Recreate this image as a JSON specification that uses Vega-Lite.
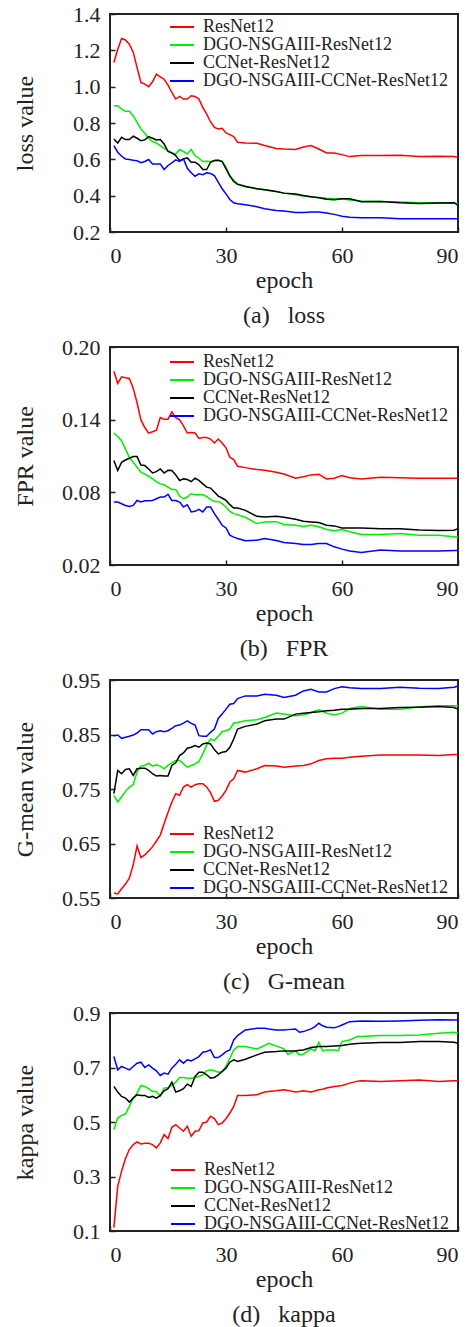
{
"$schema":"https://vega.github.io/schema/vega-lite/v6.json",
"padding":{"left":11,"top":2,"right":0,"bottom":0},
"spacing":6,
"config":{
"font":"Liberation Serif",
"style":{"guide-label":{"font":"Liberation Serif"},"guide-title":{"font":"Liberation Serif"},"group-title":{"font":"Liberation Serif"}},
"view":{"stroke":"#222","strokeWidth":2},
"axis":{"domain":false,"grid":false,"ticks":true,"tickSize":-5,"tickColor":"#222","tickWidth":1.5,"labelFont":"Liberation Serif","labelFontSize":22,"labelColor":"#222","titleFont":"Liberation Serif","titleFontSize":24,"titleFontWeight":"normal","titleColor":"#222"},
"axisX":{"labelPadding":18.5,"titlePadding":2},
"axisY":{"labelPadding":15,"titleX":-73},
"legend":{"orient":"none","labelFont":"Liberation Serif","labelFontSize":18,"labelColor":"#222","labelLimit":0,"symbolSize":144,"symbolStrokeWidth":2,"rowPadding":-4.7,"padding":0,"labelOffset":18},
"title":{"font":"Liberation Serif","fontSize":24,"fontWeight":"normal","color":"#222","orient":"bottom","offset":11}
},
"resolve":{"scale":{"color":"independent"},"legend":{"color":"independent"}},
"datasets":{
"a":[
{"x":1,"R":1.133,"G":0.895,"K":0.712,"B":0.676},
{"x":2,"R":1.206,"G":0.895,"K":0.69,"B":0.639},
{"x":3,"R":1.265,"G":0.877,"K":0.721,"B":0.617},
{"x":4,"R":1.257,"G":0.864,"K":0.709,"B":0.602},
{"x":5,"R":1.234,"G":0.864,"K":0.709,"B":0.599},
{"x":6,"R":1.19,"G":0.84,"K":0.727,"B":0.595},
{"x":7,"R":1.105,"G":0.804,"K":0.716,"B":0.592},
{"x":8,"R":1.023,"G":0.767,"K":0.703,"B":0.581},
{"x":9,"R":1.014,"G":0.743,"K":0.707,"B":0.588},
{"x":10,"R":1.0,"G":0.716,"K":0.725,"B":0.599},
{"x":11,"R":1.027,"G":0.698,"K":0.716,"B":0.575},
{"x":12,"R":1.069,"G":0.69,"K":0.707,"B":0.575},
{"x":13,"R":1.054,"G":0.676,"K":0.709,"B":0.575},
{"x":14,"R":1.041,"G":0.661,"K":0.685,"B":0.544},
{"x":15,"R":1.008,"G":0.648,"K":0.643,"B":0.566},
{"x":16,"R":0.968,"G":0.635,"K":0.635,"B":0.581},
{"x":17,"R":0.932,"G":0.63,"K":0.621,"B":0.597},
{"x":18,"R":0.946,"G":0.654,"K":0.593,"B":0.588},
{"x":19,"R":0.932,"G":0.643,"K":0.602,"B":0.602},
{"x":20,"R":0.932,"G":0.63,"K":0.608,"B":0.551},
{"x":21,"R":0.95,"G":0.654,"K":0.584,"B":0.526},
{"x":22,"R":0.946,"G":0.621,"K":0.584,"B":0.507},
{"x":23,"R":0.932,"G":0.606,"K":0.57,"B":0.52},
{"x":24,"R":0.886,"G":0.588,"K":0.544,"B":0.515},
{"x":25,"R":0.849,"G":0.59,"K":0.544,"B":0.526},
{"x":26,"R":0.807,"G":0.588,"K":0.584,"B":0.522},
{"x":27,"R":0.776,"G":0.593,"K":0.593,"B":0.511},
{"x":28,"R":0.767,"G":0.595,"K":0.595,"B":0.474},
{"x":29,"R":0.771,"G":0.59,"K":0.588,"B":0.438},
{"x":30,"R":0.745,"G":0.557,"K":0.548,"B":0.41},
{"x":31,"R":0.736,"G":0.511,"K":0.507,"B":0.379},
{"x":32,"R":0.725,"G":0.484,"K":0.478,"B":0.361},
{"x":33,"R":0.694,"G":0.465,"K":0.462,"B":0.356},
{"x":35,"R":0.69,"G":0.452,"K":0.45,"B":0.35},
{"x":38,"R":0.688,"G":0.438,"K":0.438,"B":0.339},
{"x":40,"R":0.676,"G":0.432,"K":0.432,"B":0.328},
{"x":43,"R":0.66,"G":0.423,"K":0.423,"B":0.319},
{"x":45,"R":0.657,"G":0.414,"K":0.414,"B":0.315},
{"x":48,"R":0.654,"G":0.405,"K":0.409,"B":0.308},
{"x":50,"R":0.668,"G":0.398,"K":0.401,"B":0.308},
{"x":52,"R":0.676,"G":0.393,"K":0.394,"B":0.31},
{"x":54,"R":0.657,"G":0.39,"K":0.389,"B":0.31},
{"x":56,"R":0.635,"G":0.386,"K":0.38,"B":0.305},
{"x":58,"R":0.635,"G":0.383,"K":0.378,"B":0.297},
{"x":60,"R":0.626,"G":0.383,"K":0.383,"B":0.287},
{"x":62,"R":0.615,"G":0.376,"K":0.383,"B":0.281},
{"x":65,"R":0.621,"G":0.37,"K":0.366,"B":0.279},
{"x":70,"R":0.621,"G":0.368,"K":0.368,"B":0.279},
{"x":75,"R":0.623,"G":0.365,"K":0.361,"B":0.273},
{"x":80,"R":0.615,"G":0.361,"K":0.357,"B":0.273},
{"x":85,"R":0.617,"G":0.361,"K":0.359,"B":0.273},
{"x":89,"R":0.615,"G":0.36,"K":0.361,"B":0.273},
{"x":90,"R":0.61,"G":0.356,"K":0.346,"B":0.273}
],
"b":[
{"x":1,"R":0.18,"G":0.1289,"K":0.1062,"B":0.072},
{"x":2,"R":0.17,"G":0.1261,"K":0.098,"B":0.072},
{"x":3,"R":0.1754,"G":0.1226,"K":0.1048,"B":0.0706},
{"x":4,"R":0.1746,"G":0.1157,"K":0.1067,"B":0.0692},
{"x":5,"R":0.174,"G":0.1089,"K":0.1081,"B":0.0684},
{"x":6,"R":0.166,"G":0.1048,"K":0.1095,"B":0.0692},
{"x":7,"R":0.154,"G":0.1007,"K":0.1095,"B":0.0733},
{"x":8,"R":0.1398,"G":0.0966,"K":0.1026,"B":0.072},
{"x":9,"R":0.1335,"G":0.095,"K":0.1021,"B":0.0731},
{"x":10,"R":0.1289,"G":0.0933,"K":0.0993,"B":0.0731},
{"x":11,"R":0.13,"G":0.0911,"K":0.096,"B":0.0733},
{"x":12,"R":0.1313,"G":0.0889,"K":0.0971,"B":0.0747},
{"x":13,"R":0.1417,"G":0.087,"K":0.0993,"B":0.0761},
{"x":14,"R":0.1404,"G":0.0862,"K":0.096,"B":0.0761},
{"x":15,"R":0.1404,"G":0.0843,"K":0.0982,"B":0.0783},
{"x":16,"R":0.1464,"G":0.0824,"K":0.098,"B":0.0733},
{"x":17,"R":0.1417,"G":0.0824,"K":0.0944,"B":0.0733},
{"x":18,"R":0.1398,"G":0.0769,"K":0.0898,"B":0.072},
{"x":19,"R":0.1349,"G":0.0747,"K":0.0911,"B":0.0679},
{"x":20,"R":0.129,"G":0.0761,"K":0.0906,"B":0.0698},
{"x":21,"R":0.1294,"G":0.0788,"K":0.0889,"B":0.0638},
{"x":22,"R":0.129,"G":0.078,"K":0.0917,"B":0.0643},
{"x":23,"R":0.1245,"G":0.078,"K":0.0898,"B":0.066},
{"x":24,"R":0.1253,"G":0.078,"K":0.087,"B":0.0638},
{"x":25,"R":0.1253,"G":0.0766,"K":0.0843,"B":0.0679},
{"x":26,"R":0.124,"G":0.0742,"K":0.0835,"B":0.0679},
{"x":27,"R":0.1207,"G":0.0725,"K":0.0802,"B":0.0624},
{"x":28,"R":0.124,"G":0.0725,"K":0.0769,"B":0.0578},
{"x":29,"R":0.1207,"G":0.0706,"K":0.0753,"B":0.0528},
{"x":30,"R":0.1168,"G":0.0679,"K":0.0733,"B":0.0506},
{"x":31,"R":0.1089,"G":0.0643,"K":0.0698,"B":0.0446},
{"x":32,"R":0.107,"G":0.0624,"K":0.0671,"B":0.043},
{"x":33,"R":0.1015,"G":0.0616,"K":0.0671,"B":0.0419},
{"x":35,"R":0.1004,"G":0.0594,"K":0.0651,"B":0.04},
{"x":38,"R":0.0988,"G":0.0542,"K":0.0602,"B":0.0405},
{"x":40,"R":0.0982,"G":0.0556,"K":0.0597,"B":0.0419},
{"x":43,"R":0.0966,"G":0.0558,"K":0.0602,"B":0.0402},
{"x":45,"R":0.0952,"G":0.0534,"K":0.0594,"B":0.0386},
{"x":48,"R":0.0917,"G":0.0528,"K":0.0578,"B":0.0378},
{"x":50,"R":0.0928,"G":0.0517,"K":0.0561,"B":0.037},
{"x":52,"R":0.0944,"G":0.0528,"K":0.0556,"B":0.037},
{"x":54,"R":0.095,"G":0.0515,"K":0.055,"B":0.0378},
{"x":56,"R":0.0911,"G":0.0493,"K":0.0528,"B":0.0378},
{"x":58,"R":0.0917,"G":0.0482,"K":0.0523,"B":0.035},
{"x":60,"R":0.0939,"G":0.0493,"K":0.0506,"B":0.0331},
{"x":62,"R":0.092,"G":0.0474,"K":0.0506,"B":0.0315},
{"x":65,"R":0.0911,"G":0.0452,"K":0.0506,"B":0.0304},
{"x":70,"R":0.0925,"G":0.0452,"K":0.05,"B":0.0323},
{"x":75,"R":0.092,"G":0.046,"K":0.05,"B":0.0315},
{"x":80,"R":0.0917,"G":0.0446,"K":0.049,"B":0.0315},
{"x":85,"R":0.0917,"G":0.0446,"K":0.0484,"B":0.0315},
{"x":89,"R":0.0917,"G":0.0433,"K":0.0487,"B":0.032},
{"x":90,"R":0.0917,"G":0.0427,"K":0.05,"B":0.032}
],
"c":[
{"x":1,"R":0.5591,"G":0.7385,"K":0.7415,"B":0.8479},
{"x":2,"R":0.5573,"G":0.7263,"K":0.784,"B":0.849},
{"x":3,"R":0.567,"G":0.7354,"K":0.778,"B":0.843},
{"x":4,"R":0.5755,"G":0.7457,"K":0.7859,"B":0.845},
{"x":5,"R":0.5865,"G":0.7536,"K":0.7871,"B":0.8467},
{"x":6,"R":0.6108,"G":0.7579,"K":0.7749,"B":0.849},
{"x":7,"R":0.6454,"G":0.781,"K":0.7871,"B":0.8527},
{"x":8,"R":0.6242,"G":0.792,"K":0.7883,"B":0.8588},
{"x":9,"R":0.629,"G":0.7932,"K":0.7883,"B":0.8588},
{"x":10,"R":0.6363,"G":0.7974,"K":0.784,"B":0.8588},
{"x":11,"R":0.6442,"G":0.792,"K":0.778,"B":0.8509},
{"x":12,"R":0.6546,"G":0.7944,"K":0.7737,"B":0.8552},
{"x":13,"R":0.6655,"G":0.792,"K":0.7749,"B":0.857},
{"x":14,"R":0.6868,"G":0.7871,"K":0.7737,"B":0.8552},
{"x":15,"R":0.7068,"G":0.7932,"K":0.7737,"B":0.857},
{"x":16,"R":0.7263,"G":0.798,"K":0.7932,"B":0.8612},
{"x":17,"R":0.7415,"G":0.8023,"K":0.798,"B":0.8661},
{"x":18,"R":0.7385,"G":0.8023,"K":0.8114,"B":0.8673},
{"x":19,"R":0.7536,"G":0.7962,"K":0.8163,"B":0.871},
{"x":20,"R":0.7579,"G":0.7901,"K":0.8248,"B":0.8752},
{"x":21,"R":0.7536,"G":0.7932,"K":0.8266,"B":0.8704},
{"x":22,"R":0.7579,"G":0.7962,"K":0.8296,"B":0.8673},
{"x":23,"R":0.7597,"G":0.8005,"K":0.8266,"B":0.8479},
{"x":24,"R":0.7597,"G":0.8144,"K":0.8327,"B":0.8467},
{"x":25,"R":0.7536,"G":0.8309,"K":0.8345,"B":0.8467},
{"x":26,"R":0.7433,"G":0.8418,"K":0.8327,"B":0.854},
{"x":27,"R":0.7275,"G":0.8388,"K":0.8223,"B":0.86},
{"x":28,"R":0.7293,"G":0.8467,"K":0.8144,"B":0.8795},
{"x":29,"R":0.7372,"G":0.8552,"K":0.8175,"B":0.8874},
{"x":30,"R":0.7476,"G":0.857,"K":0.8187,"B":0.8965},
{"x":31,"R":0.7628,"G":0.86,"K":0.8266,"B":0.9056},
{"x":32,"R":0.7689,"G":0.871,"K":0.8418,"B":0.9068},
{"x":33,"R":0.784,"G":0.8722,"K":0.86,"B":0.916},
{"x":35,"R":0.781,"G":0.8752,"K":0.8649,"B":0.9208},
{"x":38,"R":0.7871,"G":0.877,"K":0.8691,"B":0.9208},
{"x":40,"R":0.7932,"G":0.8813,"K":0.8752,"B":0.9239},
{"x":43,"R":0.792,"G":0.8892,"K":0.8783,"B":0.922},
{"x":45,"R":0.7901,"G":0.8874,"K":0.8783,"B":0.9178},
{"x":48,"R":0.792,"G":0.8843,"K":0.8874,"B":0.922},
{"x":50,"R":0.7932,"G":0.8856,"K":0.8892,"B":0.93},
{"x":52,"R":0.7962,"G":0.8904,"K":0.8904,"B":0.933},
{"x":54,"R":0.8023,"G":0.8953,"K":0.8916,"B":0.9281},
{"x":56,"R":0.8053,"G":0.8892,"K":0.8935,"B":0.9281},
{"x":58,"R":0.8065,"G":0.8856,"K":0.8947,"B":0.9342},
{"x":60,"R":0.8065,"G":0.8892,"K":0.8965,"B":0.9378},
{"x":62,"R":0.8084,"G":0.8977,"K":0.8965,"B":0.936},
{"x":65,"R":0.8102,"G":0.9014,"K":0.8977,"B":0.9342},
{"x":70,"R":0.8126,"G":0.8965,"K":0.8977,"B":0.9342},
{"x":75,"R":0.8126,"G":0.8965,"K":0.8995,"B":0.9366},
{"x":80,"R":0.8126,"G":0.9008,"K":0.9002,"B":0.9348},
{"x":85,"R":0.8114,"G":0.9026,"K":0.9014,"B":0.9342},
{"x":89,"R":0.8132,"G":0.9026,"K":0.8995,"B":0.9366},
{"x":90,"R":0.8132,"G":0.9026,"K":0.8965,"B":0.939}
],
"d":[
{"x":1,"R":0.1122,"G":0.472,"K":0.6305,"B":0.7402},
{"x":2,"R":0.2646,"G":0.5146,"K":0.6098,"B":0.6915},
{"x":3,"R":0.3195,"G":0.5244,"K":0.5939,"B":0.7037},
{"x":4,"R":0.3659,"G":0.5293,"K":0.5878,"B":0.6976},
{"x":5,"R":0.3988,"G":0.5573,"K":0.5732,"B":0.6915},
{"x":6,"R":0.4171,"G":0.5878,"K":0.5878,"B":0.7037},
{"x":7,"R":0.4268,"G":0.6061,"K":0.6,"B":0.7159},
{"x":8,"R":0.4195,"G":0.6341,"K":0.5976,"B":0.7195},
{"x":9,"R":0.422,"G":0.6305,"K":0.5976,"B":0.7},
{"x":10,"R":0.422,"G":0.622,"K":0.5902,"B":0.7098},
{"x":11,"R":0.4171,"G":0.6122,"K":0.5939,"B":0.6976},
{"x":12,"R":0.4049,"G":0.6122,"K":0.5878,"B":0.6878},
{"x":13,"R":0.4232,"G":0.595,"K":0.5976,"B":0.6707},
{"x":14,"R":0.4537,"G":0.6244,"K":0.6146,"B":0.6793},
{"x":15,"R":0.439,"G":0.6268,"K":0.622,"B":0.6756},
{"x":16,"R":0.4805,"G":0.6341,"K":0.6463,"B":0.6976},
{"x":17,"R":0.4902,"G":0.6463,"K":0.6098,"B":0.7122},
{"x":18,"R":0.478,"G":0.6634,"K":0.6146,"B":0.728},
{"x":19,"R":0.4659,"G":0.6634,"K":0.622,"B":0.7159},
{"x":20,"R":0.4841,"G":0.661,"K":0.639,"B":0.728},
{"x":21,"R":0.4476,"G":0.661,"K":0.6305,"B":0.7244},
{"x":22,"R":0.4659,"G":0.6634,"K":0.6671,"B":0.7317},
{"x":23,"R":0.4683,"G":0.6671,"K":0.6829,"B":0.7402},
{"x":24,"R":0.4963,"G":0.6732,"K":0.6829,"B":0.7561},
{"x":25,"R":0.5,"G":0.6878,"K":0.6732,"B":0.7585},
{"x":26,"R":0.5207,"G":0.6915,"K":0.661,"B":0.7646},
{"x":27,"R":0.5122,"G":0.6878,"K":0.6634,"B":0.7366},
{"x":28,"R":0.4902,"G":0.6829,"K":0.6732,"B":0.7366},
{"x":29,"R":0.4963,"G":0.6854,"K":0.6854,"B":0.7463},
{"x":30,"R":0.5122,"G":0.7037,"K":0.6976,"B":0.7585},
{"x":31,"R":0.5329,"G":0.7341,"K":0.7195,"B":0.7646},
{"x":32,"R":0.5573,"G":0.7646,"K":0.728,"B":0.8012},
{"x":33,"R":0.5976,"G":0.7768,"K":0.722,"B":0.8171},
{"x":35,"R":0.5976,"G":0.7768,"K":0.7305,"B":0.8378},
{"x":38,"R":0.6,"G":0.7683,"K":0.7463,"B":0.8439},
{"x":40,"R":0.6098,"G":0.7805,"K":0.7561,"B":0.8439},
{"x":41,"R":0.612,"G":0.789,"K":0.757,"B":0.841},
{"x":43,"R":0.6146,"G":0.7793,"K":0.7585,"B":0.8378},
{"x":45,"R":0.6183,"G":0.7683,"K":0.761,"B":0.8378},
{"x":46,"R":0.616,"G":0.7488,"K":0.761,"B":0.839},
{"x":48,"R":0.6098,"G":0.761,"K":0.761,"B":0.8415},
{"x":49,"R":0.612,"G":0.7463,"K":0.763,"B":0.8293},
{"x":50,"R":0.6146,"G":0.7488,"K":0.7646,"B":0.8317},
{"x":52,"R":0.6098,"G":0.7683,"K":0.7732,"B":0.8415},
{"x":53,"R":0.614,"G":0.761,"K":0.775,"B":0.85},
{"x":54,"R":0.6183,"G":0.7927,"K":0.7768,"B":0.8622},
{"x":55,"R":0.62,"G":0.761,"K":0.7768,"B":0.853},
{"x":56,"R":0.6244,"G":0.7646,"K":0.7768,"B":0.8476},
{"x":58,"R":0.6305,"G":0.7646,"K":0.7793,"B":0.8463},
{"x":59,"R":0.632,"G":0.761,"K":0.78,"B":0.85},
{"x":60,"R":0.6341,"G":0.7951,"K":0.7805,"B":0.8561},
{"x":62,"R":0.6427,"G":0.8012,"K":0.7854,"B":0.8683},
{"x":64,"R":0.65,"G":0.8134,"K":0.788,"B":0.87},
{"x":65,"R":0.6512,"G":0.8134,"K":0.789,"B":0.8707},
{"x":70,"R":0.6488,"G":0.8171,"K":0.7915,"B":0.8695},
{"x":75,"R":0.6512,"G":0.8171,"K":0.7915,"B":0.8707},
{"x":80,"R":0.6537,"G":0.8195,"K":0.7951,"B":0.8732},
{"x":85,"R":0.6488,"G":0.8256,"K":0.7951,"B":0.8756},
{"x":89,"R":0.6512,"G":0.8293,"K":0.7927,"B":0.8744},
{"x":90,"R":0.6512,"G":0.8256,"K":0.789,"B":0.8756}
]
},
"vconcat":[
{"width":348,"height":218,"data":{"name":"a"},
"transform":[{"fold":["R","G","K","B"],"as":["s","v"]}],
"mark":{"type":"line","strokeWidth":1.5},
"encoding":{
"x":{"field":"x","type":"quantitative","scale":{"domain":[0,90],"nice":false},"axis":{"values":[0,30,60,90],"title":"epoch"}},
"y":{"field":"v","type":"quantitative","scale":{"domain":[0.2,1.4],"nice":false,"zero":false},"axis":{"values":[0.2,0.4,0.6,0.8,1.0,1.2,1.4],"format":".1f","title":"loss value"}},
"color":{"field":"s","type":"nominal","scale":{"domain":["R","G","K","B"],"range":["#ff0000","#00ee00","#000000","#0000ff"]},
"legend":{"title":null,"legendX":57,"legendY":4,"symbolType":"M-1,0H3","labelExpr":"datum.label=='R'?'ResNet12':datum.label=='G'?'DGO-NSGAIII-ResNet12':datum.label=='K'?'CCNet-ResNet12':'DGO-NSGAIII-CCNet-ResNet12'"}}
},
"title":{"text":"(a)\u00a0\u00a0\u00a0loss"}},
{"width":348,"height":218,"data":{"name":"b"},
"transform":[{"fold":["R","G","K","B"],"as":["s","v"]}],
"mark":{"type":"line","strokeWidth":1.5},
"encoding":{
"x":{"field":"x","type":"quantitative","scale":{"domain":[0,90],"nice":false},"axis":{"values":[0,30,60,90],"title":"epoch"}},
"y":{"field":"v","type":"quantitative","scale":{"domain":[0.02,0.2],"nice":false,"zero":false},"axis":{"values":[0.02,0.08,0.14,0.2],"format":".2f","title":"FPR value"}},
"color":{"field":"s","type":"nominal","scale":{"domain":["R","G","K","B"],"range":["#ff0000","#00ee00","#000000","#0000ff"]},
"legend":{"title":null,"legendX":57,"legendY":6,"symbolType":"M-1,0H3","labelExpr":"datum.label=='R'?'ResNet12':datum.label=='G'?'DGO-NSGAIII-ResNet12':datum.label=='K'?'CCNet-ResNet12':'DGO-NSGAIII-CCNet-ResNet12'"}}
},
"title":{"text":"(b)\u00a0\u00a0\u00a0FPR"}},
{"width":348,"height":218,"data":{"name":"c"},
"transform":[{"fold":["R","G","K","B"],"as":["s","v"]}],
"mark":{"type":"line","strokeWidth":1.5},
"encoding":{
"x":{"field":"x","type":"quantitative","scale":{"domain":[0,90],"nice":false},"axis":{"values":[0,30,60,90],"title":"epoch"}},
"y":{"field":"v","type":"quantitative","scale":{"domain":[0.55,0.95],"nice":false,"zero":false},"axis":{"values":[0.55,0.65,0.75,0.85,0.95],"format":".2f","title":"G-mean value"}},
"color":{"field":"s","type":"nominal","scale":{"domain":["R","G","K","B"],"range":["#ff0000","#00ee00","#000000","#0000ff"]},
"legend":{"title":null,"legendX":57,"legendY":145,"symbolType":"M-1,0H3","labelExpr":"datum.label=='R'?'ResNet12':datum.label=='G'?'DGO-NSGAIII-ResNet12':datum.label=='K'?'CCNet-ResNet12':'DGO-NSGAIII-CCNet-ResNet12'"}}
},
"title":{"text":"(c)\u00a0\u00a0\u00a0G-mean"}},
{"width":348,"height":218,"data":{"name":"d"},
"transform":[{"fold":["R","G","K","B"],"as":["s","v"]}],
"mark":{"type":"line","strokeWidth":1.5},
"encoding":{
"x":{"field":"x","type":"quantitative","scale":{"domain":[0,90],"nice":false},"axis":{"values":[0,30,60,90],"title":"epoch"}},
"y":{"field":"v","type":"quantitative","scale":{"domain":[0.1,0.9],"nice":false,"zero":false},"axis":{"values":[0.1,0.3,0.5,0.7,0.9],"format":".1f","title":"kappa value"}},
"color":{"field":"s","type":"nominal","scale":{"domain":["R","G","K","B"],"range":["#ff0000","#00ee00","#000000","#0000ff"]},
"legend":{"title":null,"legendX":58,"legendY":148,"symbolType":"M-1,0H3","labelExpr":"datum.label=='R'?'ResNet12':datum.label=='G'?'DGO-NSGAIII-ResNet12':datum.label=='K'?'CCNet-ResNet12':'DGO-NSGAIII-CCNet-ResNet12'"}}
},
"title":{"text":"(d)\u00a0\u00a0\u00a0kappa"}}
]
}
